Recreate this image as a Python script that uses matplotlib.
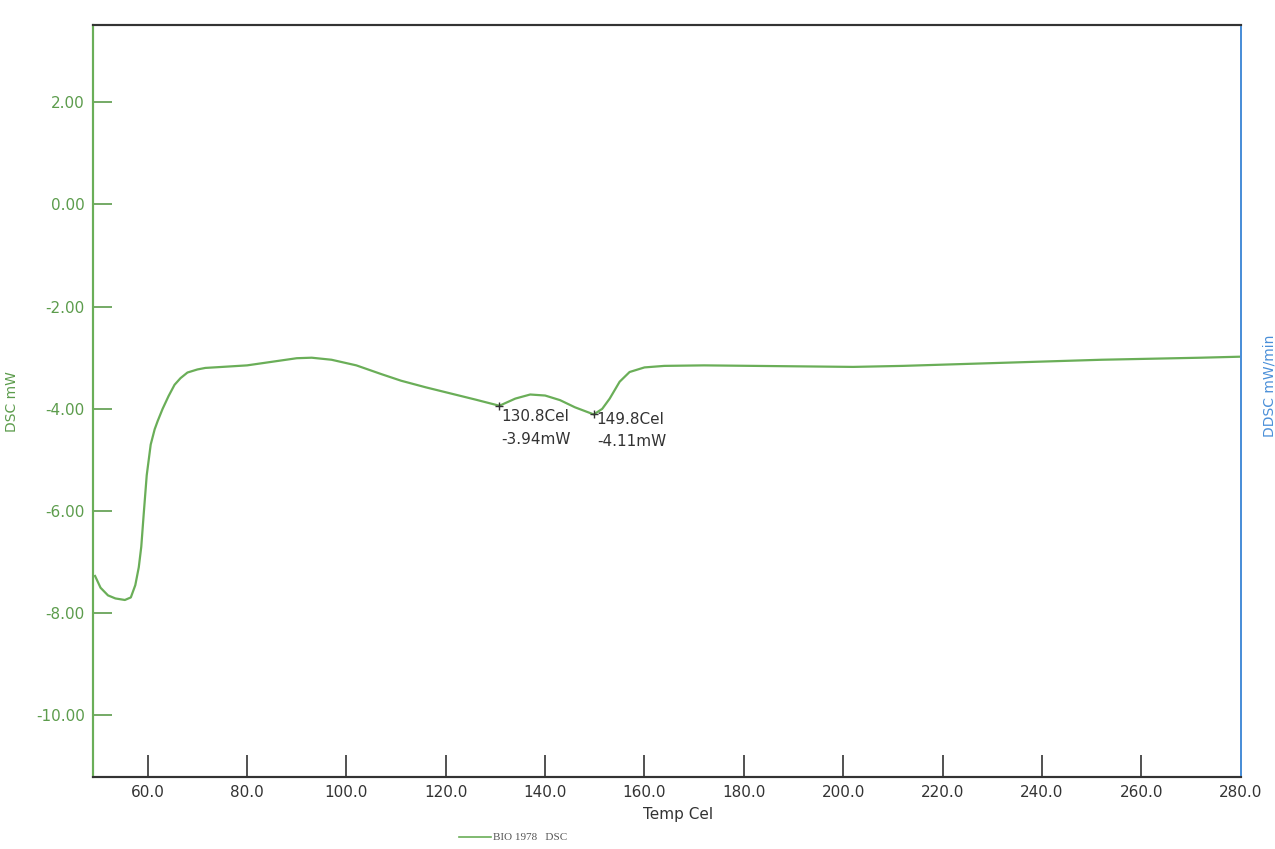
import numpy as np
import matplotlib
matplotlib.use("Agg")
import matplotlib.pyplot as plt

# DSC trace (temperature in Cel, heat flow in mW)
temp = [49.4, 50.5, 52.0, 53.5, 55.4, 56.6, 57.5, 58.2, 58.7, 59.2, 59.8, 60.6,
        61.4, 62.0, 63.0, 64.2, 65.4, 66.6, 68.0, 70.0, 71.6, 75.0, 80.0, 85.0,
        90.0, 93.0, 97.0, 102.0, 107.0, 111.0, 116.0, 121.0, 126.0, 130.8, 134.0,
        137.0, 140.0, 143.0, 146.0, 149.8, 151.5, 153.0, 155.0, 157.0, 160.0,
        164.0, 172.0, 182.0, 192.0, 202.0, 212.0, 222.0, 232.0, 242.0, 252.0,
        262.0, 272.0, 280.0]
dsc = [-7.27, -7.50, -7.65, -7.71, -7.74, -7.69, -7.45, -7.10, -6.70, -6.05, -5.30, -4.70,
       -4.40, -4.24, -4.00, -3.75, -3.53, -3.40, -3.29, -3.23, -3.20, -3.18, -3.15, -3.08,
       -3.01, -3.00, -3.04, -3.15, -3.32, -3.45, -3.58, -3.70, -3.82, -3.94, -3.80,
       -3.72, -3.74, -3.83, -3.97, -4.11, -4.00, -3.80, -3.47, -3.28, -3.19,
       -3.16, -3.15, -3.16, -3.17, -3.18, -3.16, -3.13, -3.10, -3.07, -3.04,
       -3.02, -3.00, -2.98]

peak_t = [130.8, 149.8]
peak_v = [-3.94, -4.11]
peak_txt = ["130.8Cel\n-3.94mW", "149.8Cel\n-4.11mW"]

x_ticks = np.arange(60, 281, 20)
y_ticks = [2, 0, -2, -4, -6, -8, -10]

green = "#6aae58"
label_green = "#5c9c4c"
blue = "#4a8fd8"
dark = "#333333"

fig = plt.figure(figsize=(12.75, 8.49), dpi=100)
ax = fig.add_axes([0.073, 0.085, 0.9, 0.885])

ax.plot(temp, dsc, color=green, lw=1.6)
ax.plot(peak_t, peak_v, "+", color=dark, ms=6, mew=1)
ax.text(peak_t[0] + 0.4, peak_v[0] - 0.07, peak_txt[0], color=dark, fontsize=11,
        va="top", ha="left", linespacing=1.6)
ax.text(peak_t[1] + 0.6, peak_v[1] + 0.05, peak_txt[1], color=dark, fontsize=11,
        va="top", ha="left", linespacing=1.6)

ax.set_xlim(49, 280)
ax.set_ylim(-11.2, 3.5)
ax.set_xticks(x_ticks)
ax.set_xticklabels(["%.1f" % t for t in x_ticks])
ax.set_yticks(y_ticks)
ax.set_yticklabels(["%.2f" % v for v in y_ticks])

ax.tick_params(axis="y", direction="in", length=14, width=1.2, colors=label_green,
               labelsize=11, pad=6)
ax.tick_params(axis="x", direction="in", length=16, width=1.2, colors=dark,
               labelsize=11, pad=6)

ax.set_ylabel("DSC mW", color=label_green, fontsize=10, labelpad=12)
ax.set_xlabel("Temp Cel", color=dark, fontsize=11)
ax.xaxis.set_label_coords(0.51, -0.04)

ax2 = ax.twinx()
ax2.set_yticks([])
ax2.set_ylabel("DDSC mW/min", color=blue, fontsize=10)
ax2.yaxis.set_label_coords(1.019, 0.52)

for a in (ax, ax2):
    a.spines["left"].set_color(green)
    a.spines["left"].set_linewidth(1.5)
    a.spines["right"].set_color(blue)
    a.spines["right"].set_linewidth(1.3)
    a.spines["top"].set_color(dark)
    a.spines["top"].set_linewidth(1.5)
    a.spines["bottom"].set_color(dark)
    a.spines["bottom"].set_linewidth(1.5)

fig.lines.append(plt.Line2D([0.36, 0.385], [0.014, 0.014], color=green, lw=1.2,
                            transform=fig.transFigure))
fig.text(0.387, 0.014, "BIO 1978   DSC", fontsize=8, color="#555555",
         family="Liberation Serif", va="center", ha="left")

fig.savefig("out.png", dpi=100)
